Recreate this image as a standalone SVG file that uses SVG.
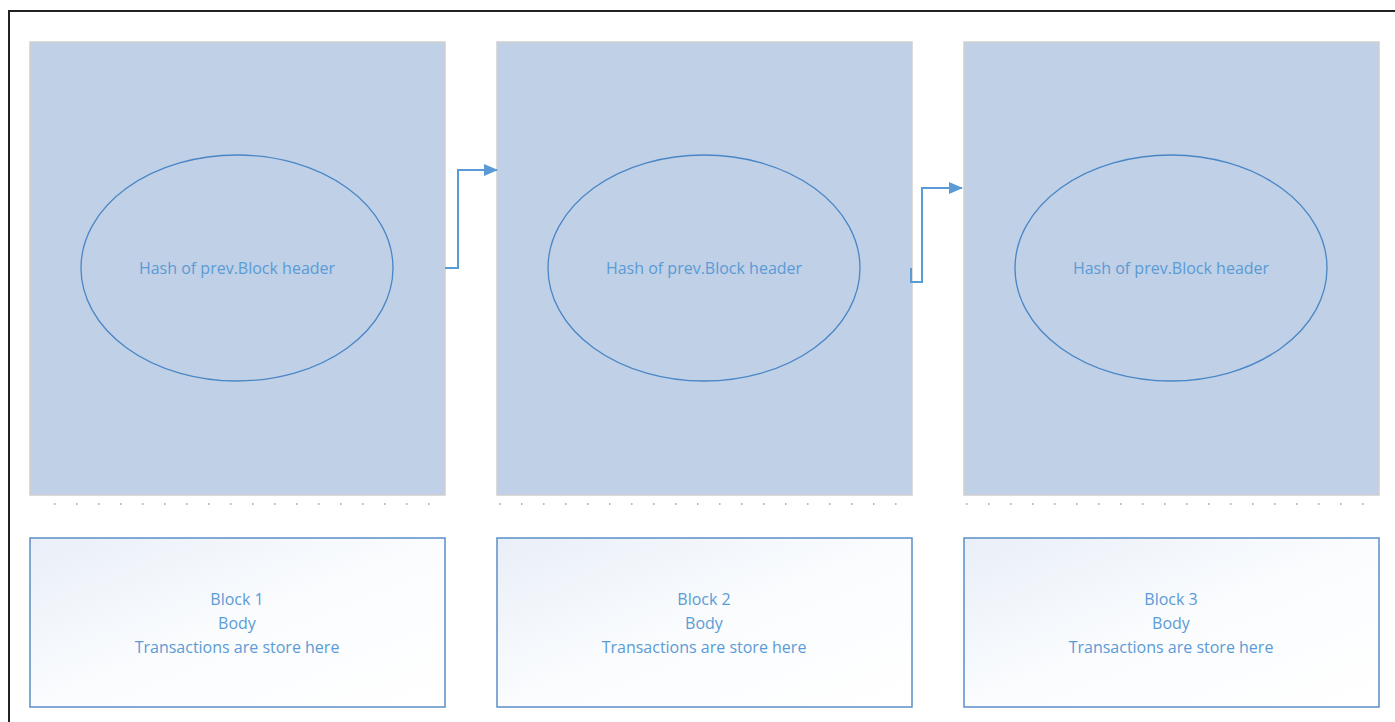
<svg xmlns="http://www.w3.org/2000/svg" width="1395" height="722" viewBox="0 0 1395 722">
<defs>
<linearGradient id="bg" x1="0" y1="0" x2="1" y2="1">
<stop offset="0" stop-color="#e9eff8"/>
<stop offset="0.5" stop-color="#fafcfe"/>
<stop offset="1" stop-color="#ffffff"/>
</linearGradient>
<marker id="ah" markerWidth="14" markerHeight="14" refX="13" refY="7" orient="auto" markerUnits="userSpaceOnUse" viewBox="0 0 14 14">
<path d="M0,1 L14,7 L0,13 Z" fill="#5b9bd5"/>
</marker>
<style>
.hdr{fill:#bfd0e7;stroke:#cfcfcf;stroke-width:1.5}
.ell{fill:none;stroke:#4a86c5;stroke-width:1.3}
.body{fill:url(#bg);stroke:#5b8fc8;stroke-width:1.5}
.t{font-family:"Open Sans","Liberation Sans",sans-serif;font-size:16px;fill:#5b9bd5;text-anchor:middle}
.dots{stroke:#9aa0a8;stroke-width:1.5;stroke-dasharray:1.5 20.5}
.conn{fill:none;stroke:#5b9bd5;stroke-width:2}
</style>
</defs>
<rect width="1395" height="722" fill="#ffffff"/>
<path d="M9,722 V11 H1395" fill="none" stroke="#222" stroke-width="2"/>
<g id="block1">
<rect class="hdr" x="30" y="42" width="415" height="453"/>
<ellipse class="ell" cx="237" cy="268" rx="156" ry="113"/>
<text class="t" x="237" y="274">Hash of prev.Block header</text>
<line class="dots" x1="54" y1="504" x2="445" y2="504"/>
<rect class="body" x="30" y="538" width="415" height="169"/>
<text class="t" x="237" y="605">Block 1</text>
<text class="t" x="237" y="629">Body</text>
<text class="t" x="237" y="653">Transactions are store here</text>
</g>
<g id="block2">
<rect class="hdr" x="497" y="42" width="415" height="453"/>
<ellipse class="ell" cx="704" cy="268" rx="156" ry="113"/>
<text class="t" x="704" y="274">Hash of prev.Block header</text>
<line class="dots" x1="499" y1="504" x2="912" y2="504"/>
<rect class="body" x="497" y="538" width="415" height="169"/>
<text class="t" x="704" y="605">Block 2</text>
<text class="t" x="704" y="629">Body</text>
<text class="t" x="704" y="653">Transactions are store here</text>
</g>
<g id="block3">
<rect class="hdr" x="964" y="42" width="415" height="453"/>
<ellipse class="ell" cx="1171" cy="268" rx="156" ry="113"/>
<text class="t" x="1171" y="274">Hash of prev.Block header</text>
<line class="dots" x1="966" y1="504" x2="1379" y2="504"/>
<rect class="body" x="964" y="538" width="415" height="169"/>
<text class="t" x="1171" y="605">Block 3</text>
<text class="t" x="1171" y="629">Body</text>
<text class="t" x="1171" y="653">Transactions are store here</text>
</g>
<g id="connectors">
<path class="conn" d="M445,268 H458 V170 H497" marker-end="url(#ah)"/>
<path class="conn" d="M911,268 V282 H922 V188 H962" marker-end="url(#ah)"/>
</g>
</svg>
